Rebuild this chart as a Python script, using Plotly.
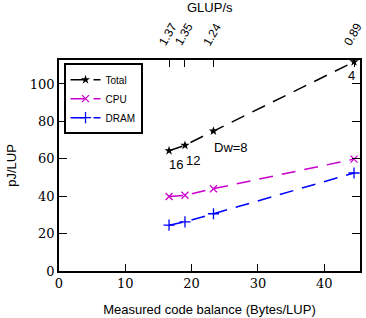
import plotly.graph_objects as go

code_balance = [16.6, 19.0, 23.3, 44.5]
glups_labels = ["1.37", "1.35", "1.24", "0.89"]
total_pj = [64.3, 67.2, 74.8, 111.8]
cpu_pj = [39.8, 40.5, 44.0, 59.8]
dram_pj = [24.5, 26.3, 30.6, 52.4]
dw_labels = ["16", "12", "Dw=8", "4"]

serif = "DejaVu Serif"
sans = "Liberation Sans"
dash = "14px,9px"

fig = go.Figure()
fig.add_trace(go.Scatter(x=code_balance, y=total_pj, name="Total", mode="lines+markers",
                         line=dict(color="black", width=1.5, dash=dash),
                         marker=dict(symbol="star", size=7, color="black")))
fig.add_trace(go.Scatter(x=code_balance, y=cpu_pj, name="CPU", mode="lines+markers",
                         line=dict(color="#cc00cc", width=1.5, dash=dash),
                         marker=dict(symbol="x-thin-open", size=7, color="#cc00cc",
                                     line=dict(width=1.3, color="#cc00cc"))))
fig.add_trace(go.Scatter(x=code_balance, y=dram_pj, name="DRAM", mode="lines+markers",
                         line=dict(color="#0000ff", width=1.5, dash=dash),
                         marker=dict(symbol="cross-thin-open", size=8, color="#0000ff",
                                     line=dict(width=1.3, color="#0000ff"))))
# invisible trace for top axis
fig.add_trace(go.Scatter(x=code_balance, y=total_pj, xaxis="x2", mode="markers",
                         marker=dict(opacity=0), showlegend=False, hoverinfo="skip"))

offsets = [(7, -14), (8, -15), (18, -16), (-3, -14)]
for xv, yv, t, (dx, dy) in zip(code_balance, total_pj, dw_labels, offsets):
    fig.add_annotation(x=xv, y=yv, text=t, showarrow=False, xshift=dx, yshift=dy,
                       font=dict(family=sans, size=13, color="black"))

# top axis labels (rotated)
for xv, t in zip(code_balance, glups_labels):
    fig.add_annotation(x=xv, xref="x2", y=1, yref="paper", text=t, textangle=-60,
                       showarrow=False, xanchor="center", yanchor="middle",
                       xshift=-1, yshift=26,
                       font=dict(family=sans, size=12, color="black"))
fig.add_annotation(x=0.5, xref="paper", y=1, yref="paper", text="GLUP/s", showarrow=False,
                   xanchor="center", yanchor="middle", yshift=53,
                   font=dict(family=sans, size=13, color="black"))

fig.update_layout(
    width=366, height=318,
    margin=dict(l=59, r=6, t=60, b=47),
    plot_bgcolor="white", paper_bgcolor="white",
    showlegend=True,
    legend=dict(x=0.015, y=0.985, xanchor="left", yanchor="top",
                bgcolor="white", bordercolor="black", borderwidth=2,
                font=dict(family=sans, size=10, color="black"),
                itemwidth=30, tracegroupgap=0),
    xaxis=dict(range=[0, 45.4], tickvals=[0, 10, 20, 30, 40], ticks="inside", ticklen=7,
               tickcolor="black", showline=True, linecolor="black", linewidth=1.5,
               mirror=True, showgrid=False, zeroline=False, automargin=False,
               tickfont=dict(family=serif, size=13, color="black"),
               title=dict(text="Measured code balance (Bytes/LUP)",
                          font=dict(family=sans, size=13, color="black"), standoff=15)),
    xaxis2=dict(range=[0, 45.4], overlaying="x", side="top", tickvals=code_balance,
                showticklabels=False, ticks="inside", ticklen=7, tickcolor="black",
                showgrid=False, zeroline=False, showline=False, automargin=False),
    yaxis=dict(range=[0, 112.8], tickvals=[0, 20, 40, 60, 80, 100], ticks="inside", ticklen=8,
               tickcolor="black", showline=True, linecolor="black", linewidth=1.5,
               mirror="ticks", showgrid=False, zeroline=False, automargin=False,
               tickfont=dict(family=serif, size=13, color="black"),
               title=dict(text="pJ/LUP", font=dict(family=sans, size=13, color="black"),
                          standoff=10)),
)

fig.write_html("out.html", config={"displayModeBar": False},
               post_script="document.body.style.margin='0';document.body.style.overflow='hidden';")
